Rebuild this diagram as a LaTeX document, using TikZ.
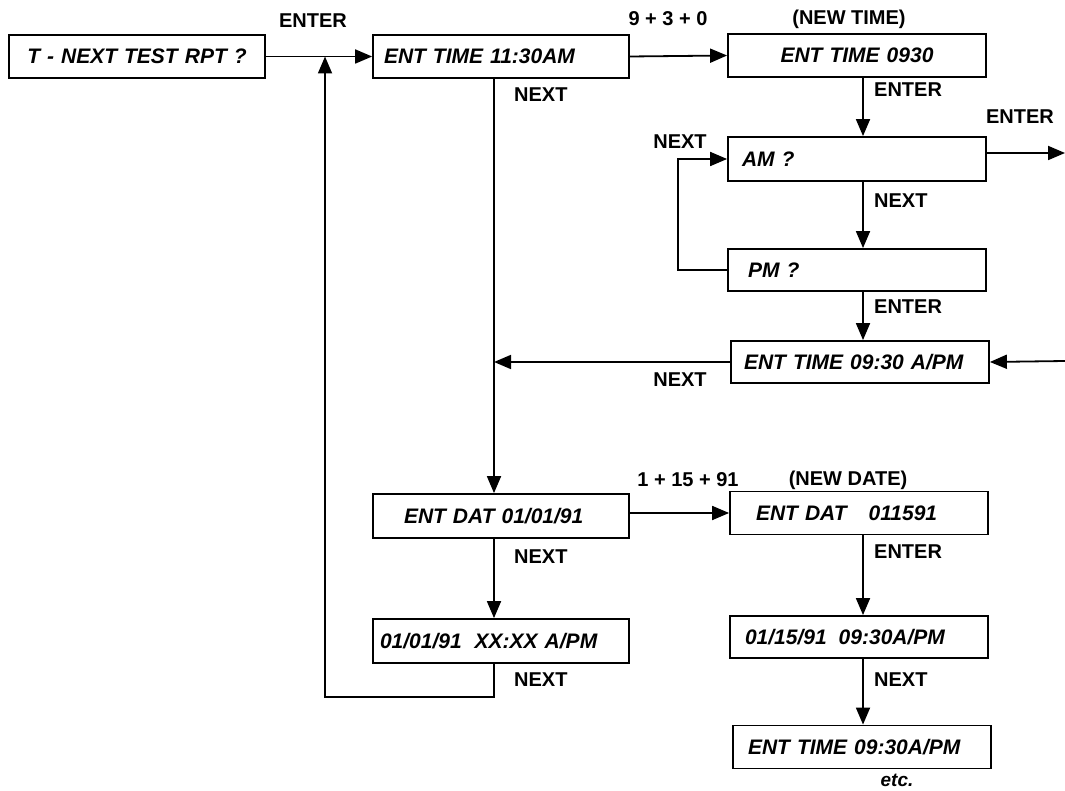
\documentclass[tikz,border=0pt]{standalone}
\usepackage{fontspec}
\setmainfont{Liberation Sans}
\usetikzlibrary{arrows.meta}
\tikzset{
	panel/.style={draw, line width=1.8pt, inner xsep=0pt, inner ysep=0pt,
		text width=258pt, minimum height=43pt, align=left,
		font=\fontsize{21}{24}\selectfont\bfseries\itshape},
	keylabel/.style={inner sep=0pt, font=\fontsize{20}{24}\selectfont\bfseries},
	flow/.style={-{Triangle[length=17pt,width=14pt]}, line width=1.8pt}
}
\newcommand{\lpad}[1]{\hspace*{#1pt}}

\begin{document}
\begin{tikzpicture}[x=1pt, y=-1pt]
	\useasboundingbox (0,0) rectangle (1065,791);
	
	%% -- guide lines for the vertical runs
	\coordinate (lspine) at (494,0);
	\coordinate (rspine) at (863,0);
	\coordinate (loopx) at (325,697);
	\coordinate (ampmx) at (678,0);
	\coordinate (amout) at (1065,153);
	\coordinate (timein) at (1065,361);
	
	%% -- display boxes
	\node[panel, text width=256pt, align=center] (tnext) at (137,56.5) {T - NEXT TEST RPT ?};
	\node[panel, text width=256pt] (time1) at (501,56.5) {\lpad{11}ENT TIME 11:30AM};
	\node[panel, align=center] (newtime) at (857,55.5) {ENT TIME 0930};
	\node[panel, minimum height=44pt] (am) at (857,159) {\lpad{14}AM ?};
	\node[panel, minimum height=42pt] (pm) at (857,270) {\lpad{20}PM ?};
	\node[panel, minimum height=42pt] (time2) at (860,362) {\lpad{13}ENT TIME 09:30 A/PM};
	\node[panel, text width=256pt, minimum height=44pt] (date1) at (501,516) {\lpad{31}ENT DAT 01/01/91};
	\node[panel, text width=256pt, minimum height=44pt] (stamp1) at (501,641) {\lpad{7}01/01/91\hspace{13pt}XX:XX A/PM};
	\node[panel] (newdate) at (859,513) {\lpad{26}ENT DAT\hspace{22pt}011591};
	\node[panel, minimum height=42pt] (stamp2) at (859,637) {\lpad{15}01/15/91\hspace{12pt}09:30A/PM};
	\node[panel] (time3) at (862,747) {\lpad{15}ENT TIME 09:30A/PM};
	
	%% -- key labels
	\node[keylabel] (kenter0) at (313,21) {ENTER};
	\node[keylabel] (kdigits1) at (668,19) {9 + 3 + 0};
	\node[keylabel] (knewtime) at (849,19) {(NEW TIME)};
	\node[keylabel, anchor=west] (knext1) at (514,95) {NEXT};
	\node[keylabel, anchor=west] (kenter1) at (874,90) {ENTER};
	\node[keylabel] (kenter2) at (1020,117) {ENTER};
	\node[keylabel] (knext2) at (680,142) {NEXT};
	\node[keylabel, anchor=west] (knext3) at (874,201) {NEXT};
	\node[keylabel, anchor=west] (kenter3) at (874,307) {ENTER};
	\node[keylabel] (knext4) at (680,380) {NEXT};
	\node[keylabel] (kdigits2) at (688,480) {1 + 15 + 91};
	\node[keylabel] (knewdate) at (848,480) {(NEW DATE)};
	\node[keylabel, anchor=west] (knext5) at (514,557) {NEXT};
	\node[keylabel, anchor=west] (kenter4) at (874,552) {ENTER};
	\node[keylabel, anchor=west] (knext6) at (514,680) {NEXT};
	\node[keylabel, anchor=west] (knext7) at (874,680) {NEXT};
	\node[keylabel, font=\fontsize{19}{22}\selectfont\bfseries\itshape] (ketc) at (897,780) {etc.};
	
	%% -- time branch
	\draw[flow] (tnext.east) -- (time1.west);
	\draw[flow] (time1.east) -- (newtime.west);
	\draw[flow] (newtime.south -| rspine) -- (am.north -| rspine);
	\draw[flow] (am.east |- amout) -- (amout);
	\draw[flow] (am.south -| rspine) -- (pm.north -| rspine);
	\draw[flow] (pm.west) -- (pm.west -| ampmx) |- (am.west);
	\draw[flow] (pm.south -| rspine) -- (time2.north -| rspine);
	\draw[flow] (timein) -- (time2.east);
	\draw[flow] (time2.west) -- (time2.west -| lspine);
	
	%% -- date branch
	\draw[flow] (time1.south -| lspine) -- (date1.north -| lspine);
	\draw[flow] (newdate.west -| date1.east) -- (newdate.west);
	\draw[flow] (date1.south -| lspine) -- (stamp1.north -| lspine);
	\draw[flow] (newdate.south -| rspine) -- (stamp2.north -| rspine);
	\draw[flow] (stamp2.south -| rspine) -- (time3.north -| rspine);
	
	%% -- back to the start
	\draw[flow] (stamp1.south -| lspine) |- (loopx) -- (loopx |- tnext.east);
\end{tikzpicture}
\end{document}
